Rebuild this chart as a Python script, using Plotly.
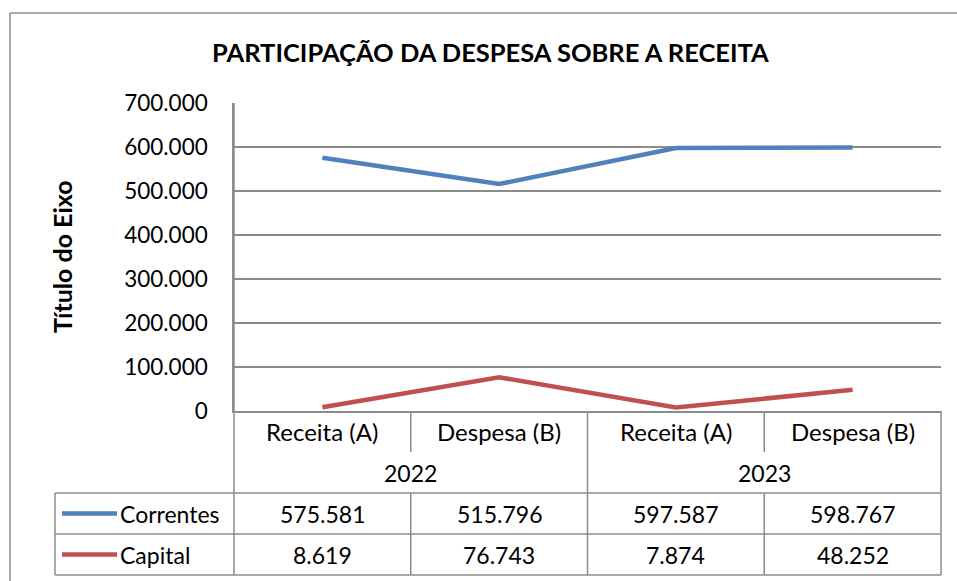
import plotly.graph_objects as go

# ---- data ----
title_text = "PARTICIPAÇÃO DA DESPESA SOBRE A RECEITA"
y_title = "Título do Eixo"
categories = ["Receita (A)", "Despesa (B)", "Receita (A)", "Despesa (B)"]
years = ["2022", "2023"]
series_names = ["Correntes", "Capital"]
correntes = [575581, 515796, 597587, 598767]
capital = [8619, 76743, 7874, 48252]
colors = ["#4F81BD", "#C0504D"]
y_ticks = [0, 100000, 200000, 300000, 400000, 500000, 600000, 700000]

W_PX, H_PX = 957, 581
L, R, T, B = 234, 941, 103, 411
PW, PH = R - L, B - T
FONT = "Lato"
GRID = "#8C8C8C"


def fx(px):
    return (px - L) / PW


def fy(py):
    return (B - py) / PH


def fmt(v):
    return f"{v:,}".replace(",", ".")


xs = list(range(len(categories)))
fig = go.Figure()
for name, vals, col in zip(series_names, [correntes, capital], colors):
    fig.add_trace(go.Scatter(x=xs, y=vals, mode="lines", name=name,
                             line=dict(color=col, width=4.5), showlegend=False))

shapes = []
ann = []


def hline(x0, x1, y, w=1.5):
    shapes.append(dict(type="line", xref="paper", yref="paper", x0=fx(x0), x1=fx(x1),
                       y0=fy(y), y1=fy(y), line=dict(color=GRID, width=w)))


def vline(x, y0, y1, w=1.5):
    shapes.append(dict(type="line", xref="paper", yref="paper", x0=fx(x), x1=fx(x),
                       y0=fy(y0), y1=fy(y1), line=dict(color=GRID, width=w)))


def vline_data(xv, y0, y1, w=1.5):
    shapes.append(dict(type="line", xref="x", yref="paper", x0=xv, x1=xv,
                       y0=fy(y0), y1=fy(y1), line=dict(color=GRID, width=w)))


# outer chart border
hline(10, 957, 13, 1.5)
vline(10, 13, 581, 1.5)

# table rows
row_cat, row_year, row_s1, row_s2, row_end = 411, 452, 493, 534, 575
hline(55, R, row_s1)
hline(55, R, row_s2)
hline(55, R, row_end)
vline(55, row_s1, row_end)
vline(L, T, row_end)
vline(R, row_cat, row_end)
# column separators (between categories)
for i in range(1, len(categories)):
    xv = i - 0.5
    if i == 2:
        vline_data(xv, row_cat, row_end)
    else:
        vline_data(xv, row_cat, row_year)
        vline_data(xv, row_s1, row_end)

FS = 23
for i, c in enumerate(categories):
    ann.append(dict(x=i, xref="x", y=fy((row_cat + row_year) / 2), yref="paper", text=c,
                    xanchor="center", yanchor="middle",
                    showarrow=False, font=dict(size=24, color="black", family=FONT)))
for j, yr in enumerate(years):
    ann.append(dict(x=2 * j + 0.5, xref="x", y=fy((row_year + row_s1) / 2), yref="paper",
                    text=yr, xanchor="center", yanchor="middle",
                    showarrow=False, font=dict(size=FS, color="black", family=FONT)))

rows = [(row_s1, row_s2), (row_s2, row_end)]
for (r0, r1), name, vals, col in zip(rows, series_names, [correntes, capital], colors):
    ym = fy((r0 + r1) / 2)
    shapes.append(dict(type="line", xref="paper", yref="paper", x0=fx(62), x1=fx(117),
                       y0=ym, y1=ym, line=dict(color=col, width=4.5)))
    ann.append(dict(x=fx(118), xref="paper", y=ym, yref="paper", text=name,
                    xanchor="left", yanchor="middle",
                    showarrow=False, font=dict(size=FS, color="black", family=FONT)))
    for i, v in enumerate(vals):
        ann.append(dict(x=i, xref="x", y=ym, yref="paper", text=fmt(v),
                        xanchor="center", yanchor="middle",
                        showarrow=False, font=dict(size=FS, color="black", family=FONT)))

# axis title
ann.append(dict(x=fx(62), xref="paper", y=fy(257), yref="paper", text="<b>" + y_title + "</b>",
                textangle=-90, xanchor="center", yanchor="middle",
                showarrow=False, font=dict(size=25, color="black", family=FONT)))
# chart title
ann.append(dict(x=fx(490), xref="paper", y=fy(52), yref="paper", text="<b>" + title_text + "</b>",
                xanchor="center", yanchor="middle",
                showarrow=False, font=dict(size=25.5, color="black", family=FONT)))

fig.update_layout(
    width=W_PX, height=H_PX,
    margin=dict(l=L, r=W_PX - R, t=T, b=H_PX - B),
    paper_bgcolor="white", plot_bgcolor="white",
    separators=",.",
    shapes=shapes, annotations=ann,
    font=dict(family=FONT, color="black"),
)
fig.update_xaxes(range=[-0.5, len(categories) - 0.5], showticklabels=False, showgrid=False,
                 showline=True, linecolor=GRID, linewidth=1.5, zeroline=False, fixedrange=True)
fig.update_yaxes(range=[0, 700000], tickvals=y_ticks, ticktext=[fmt(v) for v in y_ticks],
                 showgrid=True, gridcolor=GRID, gridwidth=1.5, zeroline=False,
                 showline=True, linecolor=GRID, linewidth=1.5,
                 tickfont=dict(size=22.5, color="black", family=FONT),
                 ticklabelstandoff=20)
fig.write_html("out.html", config={"displayModeBar": False},
               post_script="document.body.style.margin='0';")
